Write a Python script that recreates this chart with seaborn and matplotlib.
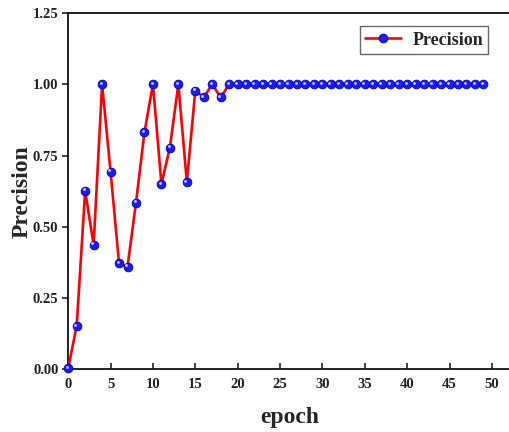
import numpy as np
import pandas as pd
import seaborn as sns
import matplotlib
matplotlib.use("Agg")
import matplotlib.pyplot as plt
from matplotlib.transforms import ScaledTranslation

# Precision per training epoch
epoch = list(range(50))
precision = [0.005, 0.152, 0.626, 0.437, 1.00, 0.693, 0.372, 0.360, 0.585, 0.832,
             1.00, 0.650, 0.778, 1.00, 0.657, 0.978, 0.954, 1.00, 0.954] + [1.00] * 31
y_ticks = [0.00, 0.25, 0.50, 0.75, 1.00, 1.25]
x_ticks = [0, 5, 10, 15, 20, 25, 30, 35, 40, 45, 50]

sns.set_theme(style="ticks")
plt.rcParams["font.family"] = ["Liberation Serif", "DejaVu Serif"]
plt.rcParams["font.weight"] = "bold"

df = pd.DataFrame({"epoch": epoch, "Precision": precision})

fig = plt.figure(figsize=(5.09, 4.32), dpi=100)
ax = fig.add_axes([0.134, 0.145, 0.869, 0.825])

sns.lineplot(data=df, x="epoch", y="Precision", ax=ax, color="#ff0000",
             linewidth=1.9, marker="o", markersize=6.3,
             markerfacecolor="#1a1aff", markeredgecolor="#0000c8",
             markeredgewidth=0.6, clip_on=False, label="Precision", zorder=3)

# small glossy highlight on each marker
shift = ax.transData + ScaledTranslation(-1.0 / 72, 1.0 / 72, fig.dpi_scale_trans)
ax.plot(df["epoch"], df["Precision"], linestyle="none", marker="o",
        markersize=2.0, markerfacecolor="#dfe4ff", markeredgewidth=0,
        alpha=0.9, transform=shift, clip_on=False, zorder=4)

ax.set_xlim(0, 52.2)
ax.set_ylim(0, 1.25)
ax.set_xticks(x_ticks)
ax.set_yticks(y_ticks)
ax.set_xticklabels([str(t) for t in x_ticks], fontsize=10.5, fontweight="bold")
ax.set_yticklabels([f"{t:.2f}" for t in y_ticks], fontsize=10.5, fontweight="bold")
ax.tick_params(axis="x", direction="in", length=4, width=1.2, pad=6, colors="#222222")
ax.tick_params(axis="y", direction="out", length=4, width=1.2, pad=3, colors="#222222")

ax.set_xlabel("epoch", fontsize=17, fontweight="bold", labelpad=12)
ax.set_ylabel("Precision", fontsize=17, fontweight="bold")
ax.yaxis.set_label_coords(-0.08, 0.5)

for side in ["left", "bottom", "top"]:
    ax.spines[side].set_linewidth(1.3)
    ax.spines[side].set_color("#111111")
ax.spines["right"].set_visible(False)

leg = ax.legend(loc="upper right", bbox_to_anchor=(0.95, 0.963),
                borderaxespad=0, prop={"weight": "bold", "size": 13},
                frameon=True, fancybox=False, handlelength=2.0,
                borderpad=0.3, handletextpad=0.6)
leg.get_frame().set_edgecolor("#444444")
leg.get_frame().set_linewidth(1.0)

fig.savefig("out.png", dpi=100)
